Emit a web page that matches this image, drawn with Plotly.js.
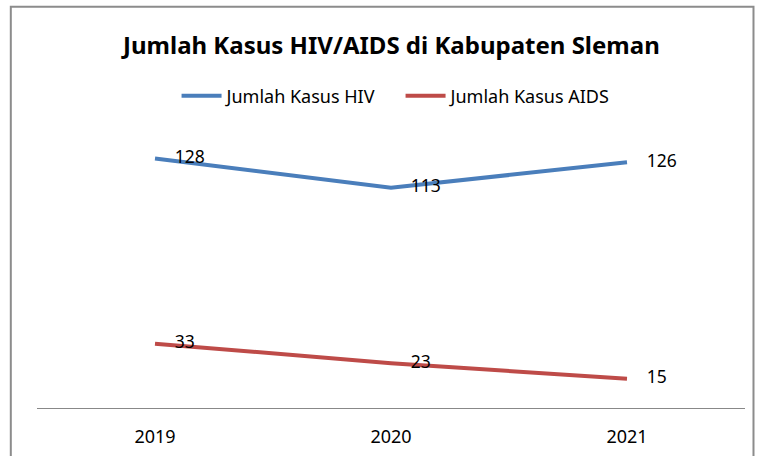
<!DOCTYPE html>
<html>
<head>
<meta charset="utf-8">
<script src="https://cdn.plot.ly/plotly-3.0.1.min.js"></script>
<style>html,body{margin:0;padding:0;background:#fff;}#chart{width:760px;height:456px;}</style>
</head>
<body>
<div id="chart"></div>
<script>
const years = ['2019', '2020', '2021'];
const hivCases = [128, 113, 126];
const aidsCases = [33, 23, 15];
const seriesNames = ['Jumlah Kasus HIV', 'Jumlah Kasus AIDS'];
const titleText = 'Jumlah Kasus HIV/AIDS di Kabupaten Sleman';

const FONT = 'Noto Sans';
const colors = ['#4A7EBB', '#BE4B48'];
const traces = [];
[hivCases, aidsCases].forEach((vals, k) => {
  traces.push({x: years, y: vals, name: seriesNames[k], mode: 'lines', type: 'scatter',
    line: {color: colors[k], width: 4}, hoverinfo: 'skip'});
});
[hivCases, aidsCases].forEach((vals, k) => {
  traces.push({x: years, y: vals, mode: 'markers+text', type: 'scatter', showlegend: false,
    text: vals.map(String), textposition: 'middle right', cliponaxis: false,
    marker: {size: 30, opacity: 0, color: colors[k]},
    textfont: {family: FONT, size: 17.5, color: '#000'}, hoverinfo: 'skip'});
});

const layout = {
  width: 760, height: 456,
  margin: {l: 37, r: 15, t: 135, b: 48},
  paper_bgcolor: '#fff', plot_bgcolor: '#fff',
  title: {text: '<b>' + titleText + '</b>', x: 0.515, xanchor: 'center', y: 0.9, yanchor: 'middle',
          font: {family: FONT, size: 24, color: '#000'}},
  showlegend: true,
  legend: {orientation: 'h', x: 0.5135, xanchor: 'center', y: 1.143, yanchor: 'middle',
           font: {family: FONT, size: 18, color: '#000'}, itemwidth: 40, entrywidth: 169,
           bgcolor: 'rgba(0,0,0,0)'},
  xaxis: {type: 'category', range: [-0.5, 2.5], showgrid: false, zeroline: false,
          showline: true, linecolor: '#888', linewidth: 1, ticks: '',
          tickfont: {family: FONT, size: 18, color: '#000'}, ticklabelstandoff: 12, fixedrange: true},
  yaxis: {range: [0, 140], showgrid: false, zeroline: false, showline: false,
          showticklabels: false, ticks: '', fixedrange: true},
  shapes: [{type: 'rect', xref: 'paper', yref: 'paper', x0: -0.037, x1: 1.012, y0: -0.2, y1: 1.47,
            line: {color: '#8c8c8c', width: 2}, fillcolor: 'rgba(0,0,0,0)', layer: 'below'}]
};

Plotly.newPlot('chart', traces, layout, {displayModeBar: false, staticPlot: true});
</script>
</body>
</html>
